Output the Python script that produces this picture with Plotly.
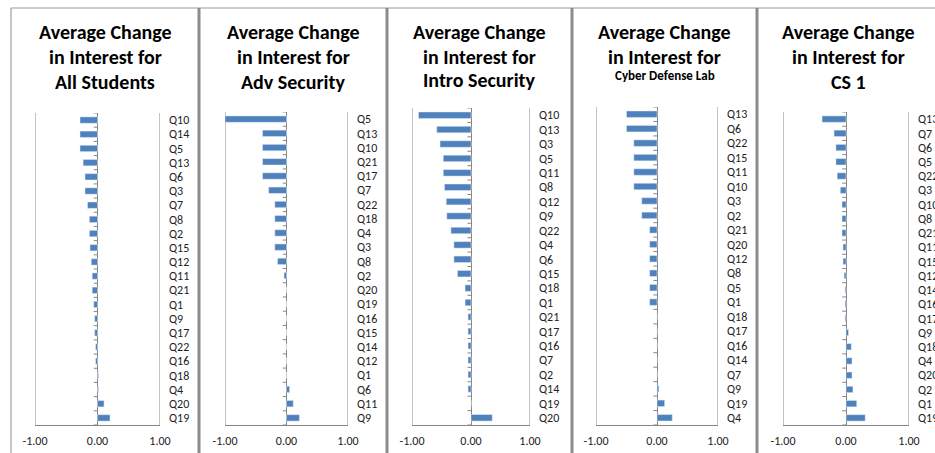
import plotly.graph_objects as go

# ---------------- data ----------------
title_lines = [
    ["Average Change", "in Interest for", "All Students"],
    ["Average Change", "in Interest for", "Adv Security"],
    ["Average Change", "in Interest for", "Intro Security"],
    ["Average Change", "in Interest for", "Cyber Defense Lab"],
    ["Average Change", "in Interest for", "CS 1"],
]

all_cats = ["Q10", "Q14", "Q5", "Q13", "Q6", "Q3", "Q7", "Q8", "Q2", "Q15", "Q12",
            "Q11", "Q21", "Q1", "Q9", "Q17", "Q22", "Q16", "Q18", "Q4", "Q20", "Q19"]
all_vals = [-0.28, -0.28, -0.28, -0.23, -0.20, -0.20, -0.16, -0.13, -0.13, -0.12, -0.10,
            -0.085, -0.085, -0.06, -0.045, -0.045, -0.03, -0.03, 0.015, 0.015, 0.105, 0.20]

adv_cats = ["Q5", "Q13", "Q10", "Q21", "Q17", "Q7", "Q22", "Q18", "Q4", "Q3", "Q8",
            "Q2", "Q20", "Q19", "Q16", "Q15", "Q14", "Q12", "Q1", "Q6", "Q11", "Q9"]
adv_vals = [-1.0, -0.39, -0.39, -0.39, -0.39, -0.29, -0.19, -0.19, -0.19, -0.19, -0.145,
            -0.04, 0, 0, 0, 0, 0, 0, 0, 0.05, 0.11, 0.21]

intro_cats = ["Q10", "Q13", "Q3", "Q5", "Q11", "Q8", "Q12", "Q9", "Q22", "Q4", "Q6",
              "Q15", "Q18", "Q1", "Q21", "Q17", "Q16", "Q7", "Q2", "Q14", "Q19", "Q20"]
intro_vals = [-0.89, -0.58, -0.525, -0.47, -0.47, -0.45, -0.42, -0.41, -0.34, -0.29, -0.29,
              -0.23, -0.10, -0.10, -0.05, -0.05, -0.05, -0.05, -0.05, -0.05, 0, 0.36]

cyber_cats = ["Q13", "Q6", "Q22", "Q15", "Q11", "Q10", "Q3", "Q2", "Q21", "Q20", "Q12",
              "Q8", "Q5", "Q1", "Q18", "Q17", "Q16", "Q14", "Q7", "Q9", "Q19", "Q4"]
cyber_vals = [-0.50, -0.50, -0.38, -0.38, -0.38, -0.38, -0.25, -0.25, -0.12, -0.12, -0.12,
              -0.12, -0.12, -0.12, 0, 0, 0, 0, 0, 0.03, 0.125, 0.25]

cs1_cats = ["Q13", "Q7", "Q6", "Q5", "Q22", "Q3", "Q10", "Q8", "Q21", "Q11", "Q15",
            "Q12", "Q14", "Q16", "Q17", "Q9", "Q18", "Q4", "Q20", "Q2", "Q1", "Q19"]
cs1_vals = [-0.38, -0.19, -0.16, -0.16, -0.14, -0.09, -0.063, -0.063, -0.063, -0.047, -0.047,
            -0.03, -0.015, -0.015, -0.015, 0.04, 0.084, 0.095, 0.095, 0.11, 0.17, 0.305]

panels = [(all_cats, all_vals), (adv_cats, adv_vals), (intro_cats, intro_vals),
          (cyber_cats, cyber_vals), (cs1_cats, cs1_vals)]

x_ticks = [-1, 0, 1]
x_ticktext = ["-1.00", "0.00", "1.00"]

# ---------------- layout geometry (pixels) ----------------
W, H = 935, 453
plot_px = [  # (x at -1, x at +1, top, bottom)
    (35, 160, 113, 425),
    (225, 348, 112, 425),
    (412, 530, 108, 425),
    (596, 718, 107, 425),
    (783, 909, 112, 425),
]
borders = [11, 199, 387, 572, 757]
title_y = [32, 57, 82]
third_line_y = [82, 82, 80, 76, 82]
third_line_size = [20, 20, 20, 13, 20]
BAR = "#4F81BD"
GRID = "#868686"
FONT = "Liberation Sans Narrow, Carlito, Calibri, Arial, sans-serif"

fig = go.Figure()
layout = dict(
    width=W, height=H, margin=dict(l=0, r=0, t=0, b=0, autoexpand=False),
    paper_bgcolor="white", plot_bgcolor="white", showlegend=False,
    font=dict(family=FONT, size=11, color="#222"),
    bargap=0.55,
)
annotations = []
shapes = []

for i, ((cats, vals), (x0, x1, top, bot)) in enumerate(zip(panels, plot_px)):
    n = i + 1
    xa = "x" if n == 1 else f"x{n}"
    ya = "y" if n == 1 else f"y{n}"
    xdom = [x0 / W, x1 / W]
    ydom = [1 - bot / H, 1 - top / H]

    fig.add_trace(go.Bar(x=vals, y=cats, orientation="h", marker_color=BAR,
                         xaxis=xa, yaxis=ya, hoverinfo="x+y"))

    layout[f"xaxis{'' if n == 1 else n}"] = dict(
        domain=xdom, range=[-1, 1], anchor=ya, tickvals=x_ticks, ticktext=x_ticktext,
        showgrid=True, gridcolor=GRID, gridwidth=1,
        zeroline=True, zerolinecolor=GRID, zerolinewidth=1,
        showline=True, linecolor=GRID, linewidth=1, ticks="", automargin=False,
        ticklabelstandoff=5, tickfont=dict(size=12, color="#222"),
        fixedrange=True, layer="below traces",
    )
    layout[f"yaxis{'' if n == 1 else n}"] = dict(
        domain=ydom, anchor=xa, side="right", type="category",
        categoryorder="array", categoryarray=cats, range=[len(cats) - 0.5, -0.5],
        showline=False, ticks="", showgrid=False, zeroline=False, automargin=False,
        ticklabelstandoff=8, tickfont=dict(size=12, color="#222"), fixedrange=True,
    )
    # gridlines at the range ends (-1 and +1)
    for gx in (x_ticks[0], x_ticks[-1]):
        shapes.append(dict(type="line", xref=xa, yref=f"{ya} domain", x0=gx, x1=gx,
                           y0=0, y1=1, line=dict(color=GRID, width=1), layer="below"))
    # small tick marks on the zero (category) axis at category boundaries
    for k in range(len(cats) + 1):
        shapes.append(dict(type="line", xref=xa, yref=ya, x0=-0.06, x1=0,
                           y0=k - 0.5, y1=k - 0.5, line=dict(color=GRID, width=1),
                           layer="below"))

    # titles
    left = borders[i]
    right = borders[i + 1] if i + 1 < len(borders) else W + 4
    cx = ((left + right) / 2) / W
    lines = title_lines[i]
    ys = title_y[:2] + [third_line_y[i]]
    sizes = [20, 20, third_line_size[i]]
    for txt, ty, fs in zip(lines, ys, sizes):
        annotations.append(dict(
            text=f"<b>{txt}</b>", xref="paper", yref="paper", x=cx, y=1 - ty / H,
            xanchor="center", yanchor="middle", showarrow=False,
            font=dict(family=FONT, size=fs, color="black"),
        ))

# chart frames
shapes.append(dict(type="line", xref="paper", yref="paper", x0=borders[0] / W, x1=1,
                   y0=1 - 8 / H, y1=1 - 8 / H, line=dict(color="#9a9a9a", width=1)))
for b in borders:
    shapes.append(dict(type="line", xref="paper", yref="paper", x0=b / W, x1=b / W,
                       y0=0, y1=1 - 8 / H,
                       line=dict(color="#8c8c8c", width=1 if b == borders[0] else 3)))

layout["annotations"] = annotations
layout["shapes"] = shapes
fig.update_layout(**layout)
fig.write_html("out.html", config={"displayModeBar": False},
               post_script="document.body.style.margin='0';")
